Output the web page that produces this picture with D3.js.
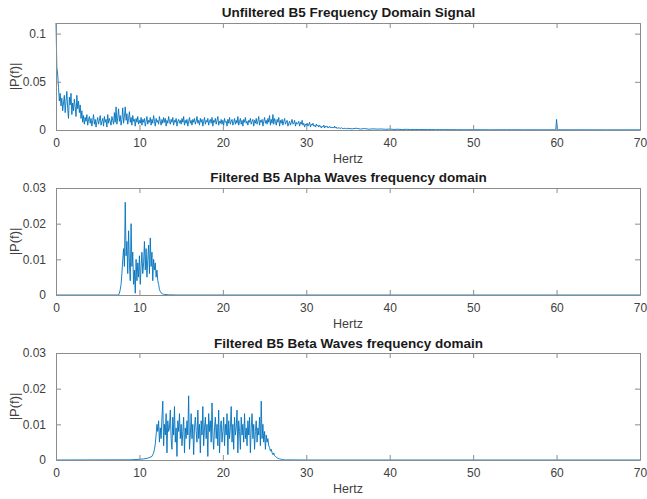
<!DOCTYPE html>
<html>
<head>
<meta charset="utf-8">
<script src="https://cdn.jsdelivr.net/npm/d3@7"></script>
<style>
  body { margin: 0; background: #fff; }
  svg { display: block; font-family: "Liberation Sans", Arial, sans-serif; }
</style>
</head>
<body>
<svg id="chart" width="647" height="499"></svg>
<script>
// values are in units of 1e-3 (milli)

// Unfiltered spectrum, 0.1 Hz bins from 0 to 35 Hz
var unfilteredStart = 0, binStep = 0.1;
var unfilteredMilli = [
  111, 65, 58, 44, 30, 38, 25, 33, 20, 28,
  36, 18, 30, 40, 22, 12, 34, 26, 38, 16,
  28, 20, 32, 24, 14, 36, 22, 30, 18, 26,
  12, 20, 8, 15, 6, 13, 9, 16, 5, 11,
  14, 7, 12, 4, 10, 16, 6, 11, 3, 9,
  13, 6, 10, 15, 5, 9, 12, 4, 14, 8,
  11, 3, 16, 7, 12, 9, 5, 14, 10, 6,
  18, 8, 24, 6, 13, 22, 9, 15, 5, 11,
  23, 7, 14, 24, 10, 17, 6, 12, 19, 8,
  13, 5, 15, 9, 11, 4, 12, 8, 14, 6,
  10, 7, 13, 5, 11, 8, 12, 4, 9, 14,
  6, 10, 8, 13, 5, 11, 7, 15, 9, 4,
  12, 8, 10, 6, 14, 9, 5, 11, 7, 13,
  8, 12, 4, 10, 7, 14, 9, 6, 11, 8,
  13, 5, 10, 8, 12, 4, 9, 11, 7, 10,
  6, 12, 8, 14, 5, 10, 7, 11, 4, 9,
  13, 7, 10, 5, 11, 8, 12, 6, 9, 14,
  7, 10, 5, 12, 8, 11, 4, 9, 13, 6,
  10, 8, 12, 5, 9, 11, 7, 13, 4, 10,
  8, 12, 6, 10, 14, 5, 9, 7, 11, 6,
  10, 5, 12, 8, 9, 4, 11, 7, 13, 6,
  9, 11, 5, 8, 12, 6, 10, 7, 14, 5,
  9, 12, 6, 10, 4, 11, 8, 13, 7, 9,
  5, 10, 8, 12, 6, 9, 11, 4, 10, 7,
  12, 6, 9, 14, 5, 10, 8, 11, 4, 9,
  13, 7, 10, 6, 12, 8, 15, 5, 11, 7,
  16, 6, 12, 9, 5, 11, 8, 13, 4, 10,
  7, 11, 5, 9, 12, 6, 8, 10, 4, 7,
  9, 5, 8, 11, 6, 7, 10, 4, 8, 6,
  7, 9, 4, 8, 6, 10, 5, 7, 3, 6,
  5, 7, 4, 6, 8, 3, 6, 5, 7, 4,
  5, 3, 6, 4, 5, 3, 5, 4, 2, 4,
  3, 5, 2, 4, 3, 4, 2, 3, 4, 2,
  3, 2, 3, 2, 4, 2, 3, 1.5, 2.5, 2,
  2, 1.5, 2.5, 1.5, 2, 1, 2, 1.5, 1, 2,
  1.5
];
// sparse tail of the unfiltered spectrum [Hz, milli], incl. the 60 Hz line
var unfilteredTail = [
  [35.5, 1.2], [36, 1.8], [36.5, 1], [37, 1.5], [37.5, 0.8], [38, 1.2],
  [38.5, 0.9], [39, 1.1], [39.5, 0.7], [40, 1], [40.5, 0.6], [41, 0.8],
  [41.5, 0.5], [42, 0.7], [42.5, 0.5], [43, 0.6], [43.5, 0.4], [44, 0.5],
  [44.5, 0.4], [45, 0.5], [45.5, 0.3], [46, 0.4], [46.5, 0.3], [47, 0.35],
  [48, 0.3], [49, 0.25], [50, 0.3], [52, 0.2], [54, 0.25], [56, 0.2],
  [58, 0.2], [59.9, 0.2], [60, 11], [60.1, 0.2], [62, 0.2], [66, 0.15], [70, 0.15]
];

// Alpha band, 0.1 Hz bins from 7.5 to 13.0 Hz
var alphaStart = 7.5;
var alphaMilli = [
  0, 0.5, 1.5, 3, 6,
  10, 13, 8, 26, 11, 15, 6, 18, 9, 4,
  20, 8, 12, 3, 7, 0.5, 10, 4, 9, 5,
  11, 3, 8, 12, 6, 9, 15, 7, 13, 5,
  10, 14, 6, 16, 8, 12, 4, 10, 7, 9,
  5, 7, 4, 3, 1.5, 1, 0.6, 0.4, 0.3, 0.2,
  0.15
];
var alphaEdges = [[0, 0], [7.4, 0], [13.5, 0.05], [14.5, 0], [70, 0]];

// Beta band, 0.1 Hz bins from 11.5 to 27.5 Hz
var betaStart = 11.5;
var betaMilli = [
  1, 1.5, 2, 3, 4.5,
  7, 10, 8, 11, 5, 9, 6, 12, 16.5, 4,
  10, 7, 13, 2, 11, 8, 9, 14, 6, 3,
  12, 7, 15, 5, 9, 1, 11, 8, 13, 6,
  10, 4, 8, 12, 2, 9, 6, 11, 7, 18,
  3, 7, 13, 6, 10, 1.5, 9, 12, 8, 5,
  14, 6, 10, 2, 11, 7, 15, 4, 9, 12,
  6, 10, 1, 13, 8, 11, 5, 16, 7, 3,
  9, 12, 6, 10, 4, 14, 2, 9, 11, 5,
  8, 12, 4, 10, 7, 13, 1.5, 11, 6, 9,
  15, 5, 10, 3, 12, 7, 9, 14, 2, 11,
  8, 3, 12, 7, 10, 5, 13, 6, 9, 4,
  11, 7, 12, 2, 9, 13, 6, 10, 3, 8,
  11, 5, 9, 7, 12, 4, 16.5, 6, 10, 5,
  8, 3, 7, 5, 6, 4, 3.5, 2.5, 3, 2,
  1.5, 2, 1.2, 1, 0.8, 0.6, 0.5, 0.4, 0.3, 0.25,
  0.2, 0.15, 0.1, 0.08, 0.05, 0.03
];
var betaLead = [[0, 0], [9, 0.05], [10, 0.2], [10.5, 0.3], [11, 0.5], [11.3, 0.8]];
var betaTrail = [[28.5, 0.02], [30, 0], [70, 0]];

var xTicks = [0, 10, 20, 30, 40, 50, 60, 70];
var yTicksTop = [0, 0.05, 0.1];
var yTicksBand = [0, 0.01, 0.02, 0.03];

var titles = [
  'Unfiltered B5 Frequency Domain Signal',
  'Filtered B5 Alpha Waves frequency domain',
  'Filtered B5 Beta Waves frequency domain'
];

function binned(start, vals) {
  return vals.map(function(v, i) { return [start + i * binStep, v / 1000]; });
}
function pairs(list) {
  return list.map(function(p) { return [p[0], p[1] / 1000]; });
}

var series = [
  binned(unfilteredStart, unfilteredMilli).concat(pairs(unfilteredTail)),
  pairs(alphaEdges.slice(0, 2)).concat(binned(alphaStart, alphaMilli), pairs(alphaEdges.slice(2))),
  pairs(betaLead).concat(binned(betaStart, betaMilli), pairs(betaTrail))
];

var panels = [
  { top: 23, bottom: 130, ymax: 0.111, ticks: yTicksTop, titleY: 17 },
  { top: 188, bottom: 295, ymax: 0.03, ticks: yTicksBand, titleY: 182 },
  { top: 353, bottom: 460, ymax: 0.03, ticks: yTicksBand, titleY: 348 }
];

var left = 56, right = 640;
var svg = d3.select('#chart');
var axisColor = '#8c8c8c', textColor = '#404040', lineColor = '#0072BD';

var x = d3.scaleLinear().domain([0, 70]).range([left, right]);

panels.forEach(function(p, k) {
  var y = d3.scaleLinear().domain([0, p.ymax]).range([p.bottom, p.top]);
  var g = svg.append('g');

  // data line
  var line = d3.line().x(function(d) { return x(d[0]); }).y(function(d) { return y(d[1]); });
  g.append('path')
    .datum(series[k])
    .attr('d', line)
    .attr('fill', 'none')
    .attr('stroke', lineColor)
    .attr('stroke-width', 0.9)
    .attr('stroke-linejoin', 'round');

  // axes box with inward ticks on all four sides
  var bottomAxis = d3.axisBottom(x).tickValues(xTicks).tickSizeInner(-5).tickSizeOuter(0).tickPadding(8).tickFormat(d3.format('d'));
  var topAxis = d3.axisTop(x).tickValues(xTicks).tickSizeInner(-5).tickSizeOuter(0).tickFormat('');
  var leftAxis = d3.axisLeft(y).tickValues(p.ticks).tickSizeInner(-5).tickSizeOuter(0).tickPadding(10).tickFormat(function(d) { return d === 0 ? '0' : String(+d.toFixed(2)); });
  var rightAxis = d3.axisRight(y).tickValues(p.ticks).tickSizeInner(-5).tickSizeOuter(0).tickFormat('');

  [
    [bottomAxis, 'translate(0,' + p.bottom + ')'],
    [topAxis, 'translate(0,' + p.top + ')'],
    [leftAxis, 'translate(' + left + ',0)'],
    [rightAxis, 'translate(' + right + ',0)']
  ].forEach(function(a) {
    var ag = g.append('g').attr('transform', a[1]).call(a[0]);
    ag.select('.domain').attr('stroke', axisColor);
    ag.selectAll('.tick line').attr('stroke', axisColor);
    ag.selectAll('.tick text').attr('fill', textColor).attr('font-size', 12).attr('font-family', null);
  });

  // title
  g.append('text')
    .attr('x', (left + right) / 2 + 0.5)
    .attr('y', p.titleY)
    .attr('text-anchor', 'middle')
    .attr('font-size', 13.5)
    .attr('font-weight', 'bold')
    .attr('fill', '#1a1a1a')
    .text(titles[k]);

  // x label
  g.append('text')
    .attr('x', (left + right) / 2)
    .attr('y', p.bottom + 33)
    .attr('text-anchor', 'middle')
    .attr('font-size', 12.5)
    .attr('fill', textColor)
    .text('Hertz');

  // y label
  g.append('text')
    .attr('transform', 'translate(19,' + ((p.top + p.bottom) / 2) + ') rotate(-90)')
    .attr('text-anchor', 'middle')
    .attr('font-size', 13)
    .attr('fill', textColor)
    .text('|P(f)|');
});
</script>
</body>
</html>
